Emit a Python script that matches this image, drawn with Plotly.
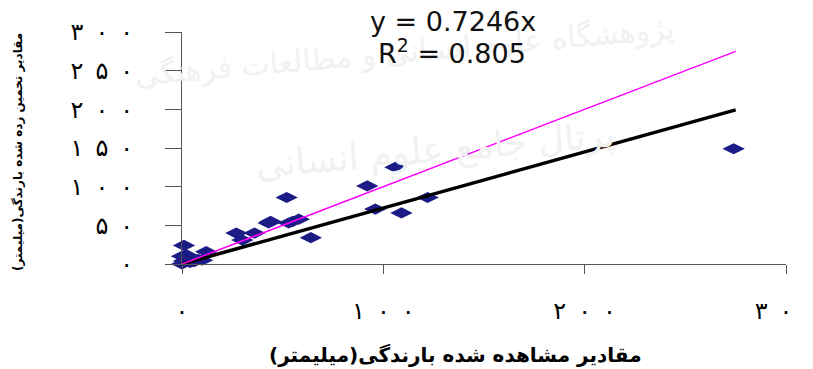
import plotly.graph_objects as go

observed = [0, 1, 3, 0, 4, 2, 6, 8, 1, 10, 12,
            27, 30, 36, 43, 44, 53, 55, 58, 52, 64,
            92, 96, 106, 109, 122, 274]
estimated = [0, 4, 8, 10, 2, 12, 3, 6, 24, 5, 16,
             40, 31, 40, 53, 55, 53, 55, 58, 86, 34,
             101, 71, 125, 66, 86, 149]

slope = 0.7246
r2 = 0.805
line_x = [0, 275]

sp = "\u2002"
y_ticks = [0, 50, 100, 150, 200, 250, 300]
y_ticktext = ["۰", "۵" + sp + "۰", "۱" + sp + "۰" + sp + "۰", "۱" + sp + "۵" + sp + "۰",
              "۲" + sp + "۰" + sp + "۰", "۲" + sp + "۵" + sp + "۰", "۳" + sp + "۰" + sp + "۰"]
x_ticks = [0, 100, 200, 300]
x_ticktext = ["۰", "۱" + sp + "۰" + sp + "۰", "۲" + sp + "۰" + sp + "۰", "۳" + sp + "۰" + sp + "۰"]

x_title = "مقادیر مشاهده شده بارندگی(میلیمتر)"
y_title = "مقادیر تخمین زده شده بارندگی(میلیمتر)"
watermark1 = "پژوهشگاه علوم انسانی و مطالعات فرهنگی"
watermark2 = "پرتال جامع علوم انسانی"

# the page body adds 8px, so target pixel positions are shifted back by OFF
OFF = 8
L, R, T, B = 182 - OFF, 786 - OFF, 32 - OFF, 264 - OFF


def px(x):
    return (x - OFF - L) / (R - L)


def py(y):
    return (B - (y - OFF)) / (B - T)


fig = go.Figure()
fig.add_trace(go.Scatter(
    x=observed, y=estimated, mode="markers", cliponaxis=False,
    marker=dict(symbol="diamond-wide", size=16, color="#1c1c86"),
    showlegend=False,
))
fig.add_trace(go.Scatter(
    x=line_x, y=[slope * v for v in line_x], mode="lines",
    line=dict(color="black", width=3.5), showlegend=False,
))
fig.add_trace(go.Scatter(
    x=line_x, y=line_x, mode="lines",
    line=dict(color="#ff00ff", width=1.5), showlegend=False,
))

ann = []
# faint watermark from the scanned page
ann.append(dict(x=px(405), y=py(52), text=watermark1, textangle=-5,
                font=dict(family="DejaVu Sans", size=30, color="#f1f1f1")))
ann.append(dict(x=px(435), y=py(150), text=watermark2, textangle=-5,
                font=dict(family="DejaVu Sans", size=36, color="#f1f1f1")))
ann.append(dict(x=px(453), y=py(21), text="y = 0.7246x",
                font=dict(family="DejaVu Sans", size=27, color="#111")))
ann.append(dict(x=px(452), y=py(52), text=f"R<sup>2</sup> = {r2:.3f}",
                font=dict(family="DejaVu Sans", size=27, color="#111")))
ann.append(dict(x=px(455), y=py(355), text=f"<b>{x_title}</b>",
                font=dict(family="DejaVu Sans", size=20, color="black")))
ann.append(dict(x=px(18), y=py(152), text=f"<b>{y_title}</b>", textangle=-90,
                font=dict(family="DejaVu Sans", size=12, color="black")))
for a in ann:
    a.update(xref="paper", yref="paper", showarrow=False,
             xanchor="center", yanchor="middle")

fig.update_layout(
    width=813, height=369,
    margin=dict(l=L, r=813 - R, t=T, b=369 - B),
    paper_bgcolor="white", plot_bgcolor="white",
    annotations=ann,
)
fig.update_xaxes(
    range=[0, 300], tickvals=x_ticks, ticktext=x_ticktext, automargin=False,
    showline=True, linecolor="#555", linewidth=1, showgrid=False, zeroline=False,
    ticks="outside", ticklen=9, tickcolor="#555", ticklabelstandoff=16,
    tickfont=dict(family="DejaVu Sans", size=24, color="black"),
)
fig.update_yaxes(
    range=[0, 300], tickvals=y_ticks, ticktext=y_ticktext, automargin=False,
    showline=True, linecolor="#555", linewidth=1, showgrid=False, zeroline=False,
    ticks="outside", ticklen=16, tickcolor="#555", ticklabelstandoff=27,
    tickfont=dict(family="DejaVu Sans", size=24, color="black"),
)

fig.write_html("out.html")
